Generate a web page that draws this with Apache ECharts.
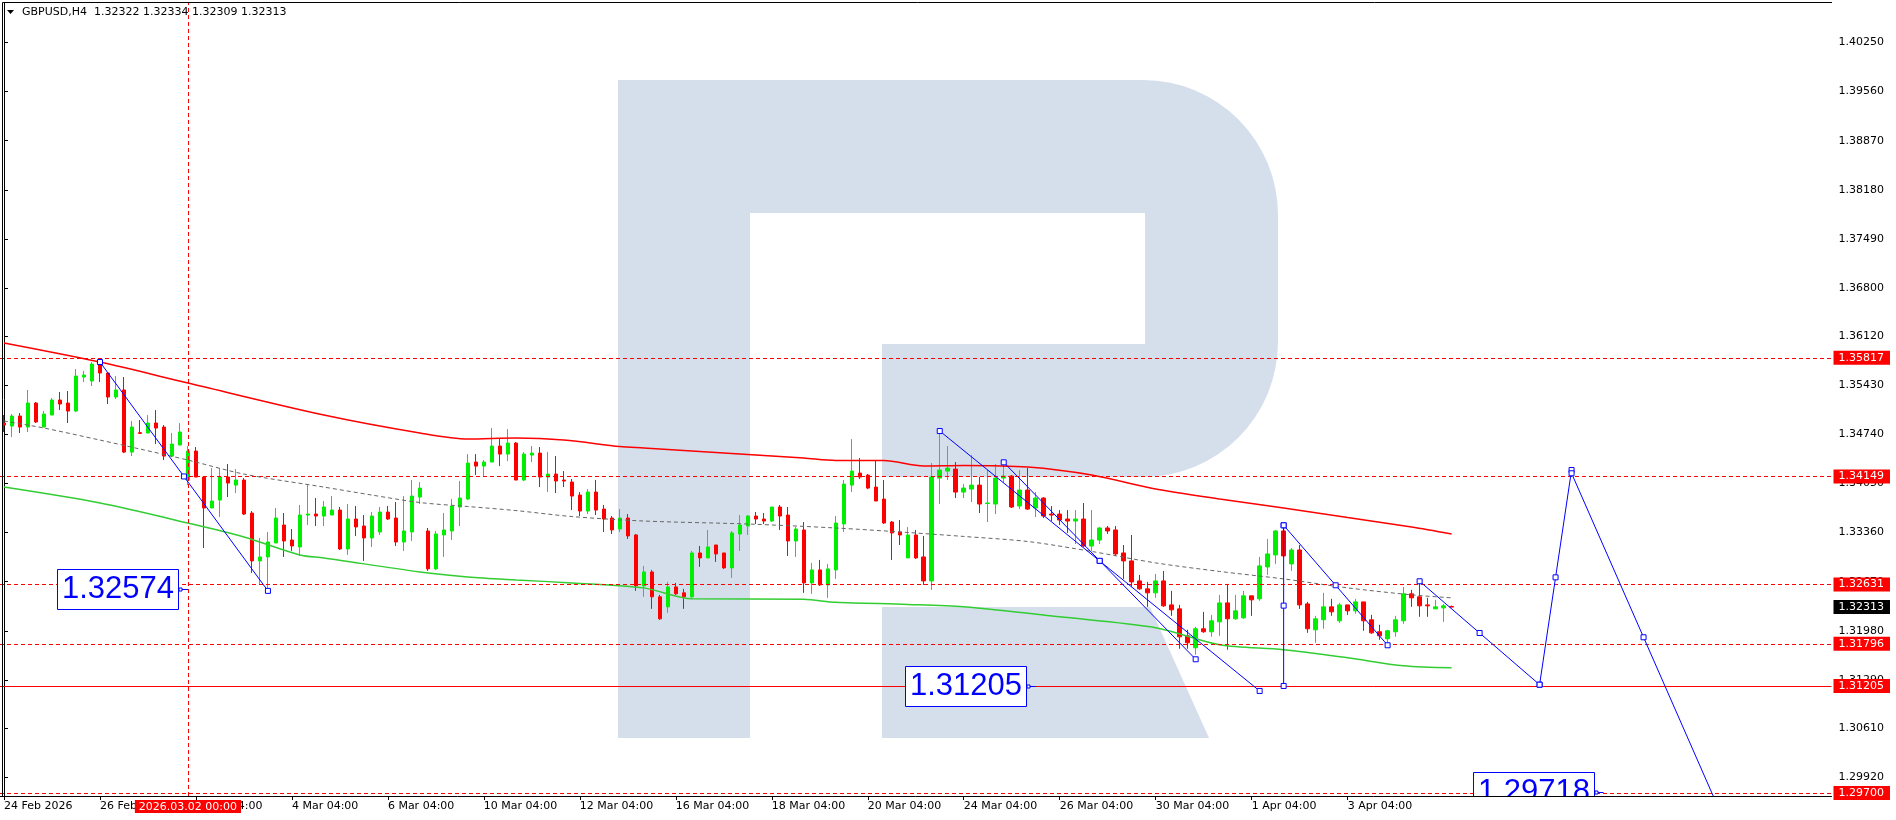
<!DOCTYPE html>
<html><head><meta charset="utf-8">
<script src="https://cdn.jsdelivr.net/npm/echarts@6/dist/echarts.min.js"></script>
<style>html,body{margin:0;padding:0;background:#fff}#c{width:1896px;height:820px}</style>
</head><body><div id="c"></div>
<script>
// ---------- data ----------
const titleText = 'GBPUSD,H4  1.32322 1.32334 1.32309 1.32313';
// H4 bars, [open, high, low, close]
const ohlc = [
[1.34901,1.35013,1.34774,1.34872],[1.34858,1.35027,1.34703,1.34999],[1.34999,1.35041,1.34760,1.34844],[1.34844,1.35365,1.34774,1.35182],
[1.35182,1.35196,1.34901,1.34915],[1.34844,1.35069,1.34844,1.35027],[1.35013,1.35252,1.35013,1.35224],[1.35224,1.35337,1.35083,1.35168],
[1.35182,1.35351,1.34901,1.35069],[1.35069,1.35660,1.35055,1.35561],[1.35547,1.35632,1.35477,1.35575],[1.35491,1.35758,1.35421,1.35730],
[1.35758,1.35772,1.35477,1.35604],[1.35604,1.35604,1.35168,1.35266],[1.35266,1.35561,1.35238,1.35365],[1.35365,1.35547,1.34478,1.34492],
[1.34492,1.34929,1.34436,1.34844],[1.34765,1.34943,1.34746,1.34755],[1.34760,1.35013,1.34760,1.34901],[1.34901,1.35083,1.34605,1.34830],
[1.34844,1.34872,1.34380,1.34436],[1.34436,1.34760,1.34422,1.34605],[1.34591,1.34901,1.34591,1.34774],[1.34099,1.34577,1.34028,1.34507],
[1.34507,1.34563,1.34141,1.34141],[1.34141,1.34155,1.33144,1.33706],[1.33706,1.34267,1.33706,1.33804],[1.33818,1.34267,1.33579,1.34141],
[1.34141,1.34324,1.33860,1.34057],[1.34028,1.34253,1.33916,1.34099],[1.34099,1.34127,1.33607,1.33621],[1.33635,1.33663,1.32793,1.32962],
[1.32962,1.33285,1.32625,1.33018],[1.33018,1.33369,1.32555,1.33228],[1.33214,1.33706,1.33214,1.33565],[1.33467,1.33635,1.33018,1.33242],
[1.33256,1.33411,1.33102,1.33172],[1.33158,1.33748,1.33032,1.33607],[1.33607,1.34028,1.33467,1.33621],[1.33621,1.33846,1.33453,1.33593],
[1.33593,1.33804,1.33453,1.33720],[1.33607,1.33874,1.33607,1.33677],[1.33677,1.33720,1.33116,1.33130],[1.33130,1.33762,1.33046,1.33551],
[1.33551,1.33734,1.33313,1.33439],[1.33453,1.33607,1.32962,1.33285],[1.33285,1.33649,1.33158,1.33593],[1.33369,1.33720,1.33327,1.33649],
[1.33649,1.33734,1.33537,1.33551],[1.33565,1.33790,1.33172,1.33228],[1.33228,1.33874,1.33102,1.33383],[1.33369,1.34099,1.33242,1.33874],
[1.33860,1.34071,1.33762,1.33986],[1.33383,1.33425,1.32821,1.32850],[1.32850,1.33383,1.32836,1.33341],[1.33327,1.33635,1.33018,1.33397],
[1.33383,1.33832,1.33256,1.33734],[1.33720,1.34085,1.33453,1.33846],[1.33832,1.34464,1.33818,1.34338],[1.34352,1.34464,1.34169,1.34295],
[1.34295,1.34380,1.34141,1.34352],[1.34352,1.34830,1.34352,1.34577],[1.34577,1.34675,1.34295,1.34464],[1.34464,1.34816,1.34366,1.34619],
[1.34619,1.34633,1.34099,1.34099],[1.34099,1.34492,1.34085,1.34464],[1.34450,1.34577,1.34352,1.34478],[1.34478,1.34563,1.34000,1.34141],
[1.34141,1.34492,1.33930,1.34183],[1.34183,1.34436,1.33916,1.34085],[1.34099,1.34225,1.34000,1.34085],[1.34071,1.34113,1.33677,1.33874],
[1.33888,1.33930,1.33593,1.33663],[1.33663,1.33972,1.33621,1.33930],[1.33930,1.34099,1.33607,1.33677],[1.33691,1.33748,1.33369,1.33551],
[1.33565,1.33593,1.33341,1.33397],[1.33411,1.33691,1.33369,1.33565],[1.33565,1.33621,1.33271,1.33313],[1.33327,1.33341,1.32541,1.32611],
[1.32611,1.32892,1.32457,1.32807],[1.32807,1.32836,1.32288,1.32457],[1.32457,1.32485,1.32134,1.32148],[1.32316,1.32667,1.32232,1.32597],
[1.32597,1.32653,1.32485,1.32499],[1.32513,1.32569,1.32288,1.32457],[1.32457,1.33102,1.32443,1.33074],[1.33074,1.33172,1.32878,1.33004],
[1.33004,1.33397,1.33004,1.33158],[1.33186,1.33186,1.32948,1.33060],[1.33074,1.33074,1.32850,1.32864],[1.32864,1.33383,1.32723,1.33355],
[1.33341,1.33607,1.33102,1.33467],[1.33453,1.33607,1.33327,1.33593],[1.33593,1.33649,1.33481,1.33551],[1.33551,1.33635,1.33481,1.33523],
[1.33523,1.33720,1.33509,1.33720],[1.33720,1.33748,1.33397,1.33593],[1.33607,1.33720,1.33032,1.33242],[1.33242,1.33439,1.33018,1.33411],
[1.33397,1.33509,1.32513,1.32653],[1.32653,1.32934,1.32499,1.32836],[1.32836,1.32976,1.32611,1.32625],[1.32625,1.32920,1.32443,1.32850],
[1.32836,1.33593,1.32709,1.33495],[1.33481,1.34099,1.33369,1.34042],[1.34028,1.34675,1.33930,1.34225],[1.34197,1.34408,1.34113,1.34141],
[1.34169,1.34183,1.33972,1.33986],[1.34000,1.34380,1.33804,1.33804],[1.33832,1.34099,1.33481,1.33495],[1.33509,1.33523,1.32976,1.33355],
[1.33369,1.33537,1.33186,1.33327],[1.33004,1.33439,1.33004,1.33327],[1.33327,1.33397,1.32990,1.33004],[1.33018,1.33313,1.32625,1.32681],
[1.32681,1.34338,1.32555,1.34141],[1.34127,1.34802,1.33762,1.34239],[1.34225,1.34577,1.34099,1.34267],[1.34253,1.34352,1.33846,1.33930],
[1.33930,1.34042,1.33846,1.33986],[1.33972,1.34450,1.33790,1.34028],[1.34028,1.34141,1.33635,1.33762],[1.33769,1.34239,1.33509,1.33776],
[1.33762,1.34324,1.33621,1.34127],[1.34127,1.34310,1.34057,1.34155],[1.34155,1.34169,1.33706,1.33720],[1.33734,1.34239,1.33691,1.33958],
[1.33958,1.34267,1.33677,1.33691],[1.33706,1.33930,1.33579,1.33846],[1.33846,1.33860,1.33565,1.33593],[1.33621,1.33734,1.33523,1.33607],
[1.33621,1.33677,1.33467,1.33537],[1.33551,1.33677,1.33355,1.33523],[1.33523,1.33677,1.33200,1.33551],[1.33551,1.33776,1.33158,1.33172],
[1.33172,1.33677,1.33102,1.33256],[1.33256,1.33439,1.33200,1.33425],[1.33425,1.33453,1.33341,1.33383],[1.33397,1.33453,1.33032,1.33060],
[1.33074,1.33186,1.32709,1.32962],[1.32962,1.33327,1.32597,1.32667],[1.32681,1.32765,1.32555,1.32569],[1.32569,1.32667,1.32316,1.32513],
[1.32513,1.32779,1.32443,1.32681],[1.32681,1.32821,1.32316,1.32330],[1.32344,1.32541,1.32190,1.32274],[1.32288,1.32344,1.31727,1.31895],
[1.31909,1.31994,1.31727,1.31811],[1.31741,1.32036,1.31643,1.32008],[1.32008,1.32246,1.31951,1.31966],[1.31966,1.32204,1.31895,1.32120],
[1.32106,1.32485,1.31909,1.32372],[1.32372,1.32639,1.31713,1.32148],[1.32148,1.32485,1.32134,1.32260],[1.32162,1.32541,1.32148,1.32471],
[1.32471,1.32471,1.32190,1.32415],[1.32429,1.33018,1.32401,1.32892],[1.32878,1.33271,1.32765,1.33060],[1.33046,1.33397,1.32920,1.33383],
[1.33383,1.33453,1.33032,1.33032],[1.32920,1.33144,1.32821,1.33116],[1.33116,1.33186,1.32288,1.32344],[1.32358,1.32386,1.31951,1.32008],
[1.31994,1.32190,1.31811,1.32148],[1.32134,1.32513,1.32008,1.32316],[1.32316,1.32429,1.32190,1.32246],[1.32120,1.32372,1.32092,1.32344],
[1.32344,1.32344,1.32204,1.32260],[1.32260,1.32429,1.32218,1.32386],[1.32386,1.32386,1.31980,1.32120],[1.32134,1.32204,1.31937,1.31951],
[1.31966,1.32064,1.31853,1.31909],[1.31867,1.31994,1.31783,1.31980],[1.31966,1.32190,1.31895,1.32134],[1.32120,1.32597,1.32078,1.32499],
[1.32499,1.32555,1.32316,1.32443],[1.32457,1.32653,1.32176,1.32330],[1.32344,1.32443,1.32176,1.32330],[1.32288,1.32415,1.32288,1.32316],
[1.32302,1.32358,1.32106,1.32330],[1.32322,1.32334,1.32309,1.32313]
];
// moving averages sampled at bar indexes: [bar, value]
const redMA = [[0,1.36026],[12,1.35758],[23,1.35463],[40,1.35013],[52,1.34760],[58,1.34675],[64,1.34689],[70,1.34661],[77,1.34570],[80,1.34549],[92,1.34464],[100,1.34408],[104,1.34373],[110,1.34373],[115,1.34295],[120,1.34303],[128,1.34281],[136,1.34169],[144,1.33972],[152,1.33832],[160,1.33706],[168,1.33572],[176,1.33439],[181,1.33341]];
const greenMA = [[0,1.34000],[12,1.33776],[23,1.33495],[30,1.33299],[37,1.33046],[40,1.33004],[52,1.32807],[58,1.32737],[64,1.32695],[71,1.32653],[80,1.32583],[86,1.32429],[100,1.32422],[104,1.32380],[113,1.32351],[120,1.32316],[132,1.32176],[144,1.32022],[152,1.31783],[160,1.31713],[168,1.31600],[175,1.31488],[181,1.31460]];
const greyMA = [[0,1.34929],[5,1.34830],[12,1.34661],[17,1.34535],[23,1.34380],[30,1.34183],[40,1.34000],[46,1.33888],[52,1.33783],[58,1.33727],[64,1.33670],[71,1.33586],[80,1.33523],[93,1.33481],[104,1.33425],[113,1.33362],[120,1.33306],[128,1.33235],[136,1.33095],[144,1.32934],[152,1.32814],[160,1.32709],[168,1.32583],[176,1.32485],[181,1.32443]];
// trend lines: [[startBar, startPrice], [endBar, endPrice]]
const trendLines = [
 [[12,1.35758],[33,1.32541]],
 [[117,1.34788],[157,1.31134]],
 [[125,1.34348],[149,1.31579]],
 [[160,1.33463],[160,1.31204]],
 [[160,1.33463],[173,1.31776]],
 [[177,1.32676],[192,1.31222]],
 [[192,1.31222],[196,1.34240]],
 [[196,1.34194],[214,1.29583]]
];
const dashedLevels = [1.35817, 1.34149, 1.32631, 1.31796, 1.29700];
const solidLevels = [1.31205];
const bidPrice = 1.32313;
const priceLabels = [[23,1.32574,'1.32574'],[129,1.31205,'1.31205'],[200,1.29718,'1.29718']];
const yTicks = [1.40250,1.39560,1.38870,1.38180,1.37490,1.36800,1.36120,1.35430,1.34740,1.34050,1.33360,1.32670,1.31980,1.31290,1.30610,1.29920];
const xTickLabels = ['24 Feb 2026','26 Feb 04:00','2 Mar 04:00','4 Mar 04:00','6 Mar 04:00','10 Mar 04:00','12 Mar 04:00','16 Mar 04:00','18 Mar 04:00','20 Mar 04:00','24 Mar 04:00','26 Mar 04:00','30 Mar 04:00','1 Apr 04:00','3 Apr 04:00','7 Apr 04:00'];
const crosshairBar = 23;
const crosshairText = '2026.03.02 00:00';
const slotCount = 229;

// ---------- categories (H4 bar times, weekdays only) ----------
const pad = n => (n < 10 ? '0' : '') + n;
const categories = [];
let t = Date.UTC(2026, 1, 24, 4);
while (categories.length < slotCount) {
  const d = new Date(t);
  const wd = d.getUTCDay();
  if (wd !== 0 && wd !== 6) categories.push(d.getUTCFullYear() + '.' + pad(d.getUTCMonth() + 1) + '.' + pad(d.getUTCDate()) + ' ' + pad(d.getUTCHours()) + ':00');
  t += 4 * 3600e3;
}
const FONT = 'DejaVu Sans';
const tickStep = 12;
const showTick = idx => idx % tickStep === 0 && idx / tickStep < xTickLabels.length;
const logoColor = '#d4dfeb';

const chart = echarts.init(document.getElementById('c'), null, {renderer: 'canvas'});

const hMarks = [];
dashedLevels.forEach(v => hMarks.push({yAxis: v, lineStyle: {type: [4, 3], color: '#ff0000', width: 1},
  label: {formatter: v.toFixed(5)}}));
solidLevels.forEach(v => hMarks.push({yAxis: v, lineStyle: {type: 'solid', color: '#ff0000', width: 1},
  label: {formatter: v.toFixed(5)}}));

const markLabel = {show: true, position: 'end', distance: 2, color: '#ffffff', backgroundColor: '#ff0000',
  fontFamily: FONT, fontSize: 11, lineHeight: 12, padding: [1, 6, 1, 5]};
const markBase = {silent: true, symbol: ['none', 'none'], animation: false, precision: 6, emphasis: {disabled: true}};

const series = [
  {
    type: 'candlestick', xAxisIndex: 0, yAxisIndex: 0, z: 2,
    barWidth: 4,
    data: ohlc.map(r => [r[0], r[3], r[2], r[1]]),
    itemStyle: {color: '#00ee00', color0: '#ff0000', borderColor: '#00ee00', borderColor0: '#ff0000', borderWidth: 1},
    emphasis: {disabled: true}
  },
  // horizontal level lines
  {type: 'line', xAxisIndex: 1, yAxisIndex: 0, data: [], z: 3, silent: true,
    markLine: Object.assign({}, markBase, {label: markLabel, data: hMarks})},
  // vertical crosshair
  {type: 'line', xAxisIndex: 1, yAxisIndex: 0, data: [], z: 3, silent: true,
    markLine: Object.assign({}, markBase, {
      label: Object.assign({}, markLabel, {position: 'start', distance: 4, padding: [1, 4, 0, 4], formatter: crosshairText}),
      lineStyle: {type: [4, 3], color: '#ff0000', width: 1},
      data: [{xAxis: crosshairBar}]})},
  // bid price label (no line)
  {type: 'line', xAxisIndex: 1, yAxisIndex: 0, data: [], z: 4, silent: true,
    markLine: Object.assign({}, markBase, {
      label: Object.assign({}, markLabel, {backgroundColor: '#000000', formatter: bidPrice.toFixed(5)}),
      lineStyle: {color: 'rgba(0,0,0,0)', width: 1},
      data: [{yAxis: bidPrice}]})},
  {type: 'line', xAxisIndex: 1, data: redMA, symbol: 'none', smooth: 0.3, z: 3,
    lineStyle: {color: '#ff0000', width: 1.5}, emphasis: {disabled: true}},
  {type: 'line', xAxisIndex: 1, data: greenMA, symbol: 'none', smooth: 0.3, z: 3,
    lineStyle: {color: '#32cd32', width: 1.5}, emphasis: {disabled: true}},
  {type: 'line', xAxisIndex: 1, data: greyMA, symbol: 'none', smooth: 0.3, z: 3,
    lineStyle: {color: '#666666', width: 1, type: [4, 3]}, emphasis: {disabled: true}}
];
trendLines.forEach(seg => {
  const a = seg[0], b = seg[1];
  const mid = [(a[0] + b[0]) / 2, (a[1] + b[1]) / 2];
  series.push({type: 'line', xAxisIndex: 1, data: [a, mid, b], z: 5, clip: true,
    symbol: 'rect', symbolSize: 5, showSymbol: true,
    lineStyle: {color: '#0000ff', width: 1},
    itemStyle: {color: '#ffffff', borderColor: '#0000ff', borderWidth: 1},
    emphasis: {disabled: true}});
});
series.push({
  type: 'custom', xAxisIndex: 1, yAxisIndex: 0, z: 6, clip: true,
  data: priceLabels.map(p => [p[0], p[1]]),
  renderItem: (params, api) => {
    const pt = api.coord([api.value(0), api.value(1)]);
    const txt = priceLabels[params.dataIndex][2];
    const w = 121, h = 40;
    const bx = Math.round(pt[0] - 10 - w) + 0.5, by = Math.round(pt[1] - h / 2) + 0.5;
    return {type: 'group', children: [
      {type: 'line', shape: {x1: pt[0] - 10, y1: Math.round(pt[1]) + 0.5, x2: pt[0], y2: Math.round(pt[1]) + 0.5}, style: {stroke: '#0000ff', lineWidth: 1}},
      {type: 'rect', shape: {x: bx, y: by, width: w, height: h}, style: {fill: '#ffffff', stroke: '#0000ff', lineWidth: 1}},
      {type: 'rect', shape: {x: bx + w + 0.5, y: Math.round(pt[1]) - 1, width: 3, height: 3}, style: {fill: '#ffffff', stroke: '#0000ff', lineWidth: 1}},
      {type: 'text', style: {text: txt, x: bx + w / 2, y: pt[1] + 1, align: 'center', verticalAlign: 'middle',
        font: '31px "Liberation Sans"', fill: '#0000ff'}}
    ]};
  }
});

chart.setOption({
  animation: false,
  backgroundColor: '#ffffff',
  grid: {left: -0.5, right: 64.5, top: 2.5, bottom: 24, containLabel: false},
  xAxis: [
    {type: 'category', data: categories, boundaryGap: true,
      axisLine: {show: true, lineStyle: {color: '#000', width: 1}},
      axisTick: {show: true, alignWithLabel: true, interval: idx => showTick(idx), length: 4, lineStyle: {color: '#000'}},
      axisLabel: {show: true, interval: idx => showTick(idx), showMaxLabel: false,
        formatter: (v, idx) => showTick(idx) ? xTickLabels[idx / tickStep] : '',
        align: 'left', margin: 5, color: '#000', fontFamily: FONT, fontSize: 11},
      splitLine: {show: false}},
    {type: 'value', min: -0.5, max: slotCount - 0.5, show: false}
  ],
  yAxis: {type: 'value', position: 'right', min: 1.29657, max: 1.408129, scale: true,
    axisLine: {show: true, lineStyle: {color: '#000', width: 1}},
    axisTick: {show: true, length: 4, customValues: yTicks, lineStyle: {color: '#000'}},
    axisLabel: {show: true, customValues: yTicks, formatter: v => Number(v).toFixed(5), margin: 7,
      color: '#000', fontFamily: FONT, fontSize: 11},
    splitLine: {show: false}},
  graphic: [
    {type: 'rect', z: -100, silent: true, shape: {x: 618, y: 80, width: 660, height: 397, r: [0, 135, 135, 0]}, style: {fill: logoColor}},
    {type: 'rect', z: -100, silent: true, shape: {x: 618, y: 470, width: 132, height: 268}, style: {fill: logoColor}},
    {type: 'rect', z: -99, silent: true, shape: {x: 750, y: 213, width: 395, height: 131}, style: {fill: '#ffffff'}},
    {type: 'rect', z: -99, silent: true, shape: {x: 750, y: 344, width: 132, height: 134}, style: {fill: '#ffffff'}},
    {type: 'polygon', z: -100, silent: true, shape: {points: [[882, 607], [1150, 607], [1209, 738], [882, 738]]}, style: {fill: logoColor}},
    {type: 'line', z: 50, silent: true, shape: {x1: 2.5, y1: 2.5, x2: 1832, y2: 2.5}, style: {stroke: '#000', lineWidth: 1}},
    {type: 'line', z: 50, silent: true, shape: {x1: 2.5, y1: 2.5, x2: 2.5, y2: 796}, style: {stroke: '#000', lineWidth: 1}},
    {type: 'polygon', z: 50, silent: true, shape: {points: [[7, 10], [14, 10], [10.5, 14]]}, style: {fill: '#000'}},
    {type: 'text', z: 50, silent: true, style: {text: titleText, x: 22, y: 12.5, verticalAlign: 'middle',
      font: '11px "DejaVu Sans"', fill: '#000'}}
  ],
  series: series
});
</script>
</body></html>
